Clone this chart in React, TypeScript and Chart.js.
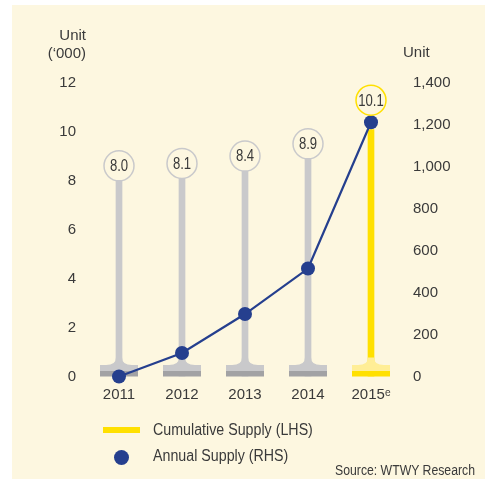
import React, { useEffect, useRef } from "react";
import { Chart, registerables } from "chart.js";

Chart.register(...registerables);

// ---- data ----
const years = ["2011", "2012", "2013", "2014", "2015ᵉ"];
const cumulativeSupply = [8.0, 8.1, 8.4, 8.9, 10.1]; // '000 units (LHS)
const cumulativeLabels = ["8.0", "8.1", "8.4", "8.9", "10.1"];
const annualSupply = [0, 112, 298, 515, 1213]; // units (RHS)
const leftAxisMax = 12;
const leftAxisStep = 2;
const rightAxisMax = 1400;
const rightAxisStep = 200;

// ---- styles ----
const CREAM = "#FDF7E0";
const TEXT = "#3A3A3A";
const BLUE = "#253F8E";
const GRAY = "#C9C9CB";
const GRAY_DARK = "#A2A2A4";
const YELLOW = "#FFE000";
const YELLOW_LIGHT = "#FFEE96";
const SANS = "'Liberation Sans', Arial, sans-serif";

const isHighlight = (i: number) => i === years.length - 1;

const bgPlugin = {
  id: "bgPlugin",
  beforeDraw(chart: any) {
    const ctx = chart.ctx;
    ctx.save();
    ctx.fillStyle = "#ffffff";
    ctx.fillRect(0, 0, chart.width, chart.height);
    ctx.fillStyle = CREAM;
    ctx.fillRect(12, 5, chart.width - 12, chart.height - 5);
    ctx.restore();
  },
};

const feetPlugin = {
  id: "feetPlugin",
  afterDatasetDraw(chart: any, args: any) {
    if (args.index !== 1) return;
    const ctx = chart.ctx;
    const meta = chart.getDatasetMeta(1);
    const base = chart.scales.y.getPixelForValue(0);
    ctx.save();
    meta.data.forEach((el: any, i: number) => {
      const x = el.x;
      const hi = isHighlight(i);
      const light = hi ? YELLOW_LIGHT : GRAY;
      const dark = hi ? YELLOW : GRAY_DARK;
      const footTop = base - 11.5;
      ctx.fillStyle = light;
      ctx.beginPath();
      ctx.moveTo(x - 3, base - 19);
      ctx.quadraticCurveTo(x - 3, footTop, x - 13, footTop);
      ctx.lineTo(x + 13, footTop);
      ctx.quadraticCurveTo(x + 3, footTop, x + 3, base - 19);
      ctx.closePath();
      ctx.fill();
      ctx.fillRect(x - 19, footTop, 38, 6);
      ctx.fillStyle = dark;
      ctx.fillRect(x - 19, base - 5.5, 38, 5.5);
    });
    ctx.restore();
  },
};

const bubblePlugin = {
  id: "bubblePlugin",
  afterDatasetsDraw(chart: any) {
    const ctx = chart.ctx;
    const barMeta = chart.getDatasetMeta(1);
    const lineMeta = chart.getDatasetMeta(0);
    ctx.save();
    barMeta.data.forEach((bar: any, i: number) => {
      const pt = lineMeta.data[i];
      const r = 15;
      const cy = Math.min(bar.y - r, pt.y - 7 - r);
      const cx = bar.x;
      ctx.beginPath();
      ctx.arc(cx, cy, r, 0, Math.PI * 2);
      ctx.fillStyle = CREAM;
      ctx.fill();
      ctx.lineWidth = 1.5;
      ctx.strokeStyle = isHighlight(i) ? YELLOW : GRAY;
      ctx.stroke();
      ctx.save();
      ctx.translate(cx, cy + 1);
      ctx.scale(0.82, 1);
      ctx.fillStyle = TEXT;
      ctx.font = `16px ${SANS}`;
      ctx.textAlign = "center";
      ctx.textBaseline = "middle";
      ctx.fillText(cumulativeLabels[i], 0, 0);
      ctx.restore();
    });
    ctx.restore();
  },
};

export default function App() {
  const canvasRef = useRef<HTMLCanvasElement | null>(null);

  useEffect(() => {
    const canvas = canvasRef.current;
    if (!canvas) return;
    const chart = new Chart(canvas, {
      type: "bar",
      data: {
        labels: years,
        datasets: [
          {
            type: "line",
            label: "Annual Supply (RHS)",
            data: annualSupply,
            yAxisID: "y1",
            borderColor: BLUE,
            backgroundColor: BLUE,
            borderWidth: 2.2,
            pointRadius: 7,
            pointBorderWidth: 0,
            pointBackgroundColor: BLUE,
            tension: 0,
            clip: false,
          } as any,
          {
            type: "bar",
            label: "Cumulative Supply (LHS)",
            data: cumulativeSupply,
            yAxisID: "y",
            backgroundColor: years.map((_, i) => (isHighlight(i) ? YELLOW : GRAY)),
            borderWidth: 0,
            barThickness: 6,
          } as any,
        ],
      },
      options: {
        responsive: false,
        animation: false,
        devicePixelRatio: 1,
        layout: { padding: { top: 83, left: 0, right: 0, bottom: 0 } },
        plugins: { legend: { display: false }, tooltip: { enabled: false } },
        scales: {
          x: {
            offset: true,
            grid: { display: false },
            border: { display: false },
            ticks: { color: TEXT, font: { family: SANS, size: 15 }, padding: 1 },
            afterFit: (s: any) => {
              s.height = 102.5;
            },
          },
          y: {
            position: "left",
            min: 0,
            max: leftAxisMax,
            grid: { display: false },
            border: { display: false },
            ticks: { stepSize: leftAxisStep, color: TEXT, font: { family: SANS, size: 15 }, padding: 3.5 },
            afterFit: (s: any) => {
              s.width = 87.5;
            },
          },
          y1: {
            position: "right",
            min: 0,
            max: rightAxisMax,
            grid: { display: false },
            border: { display: false },
            ticks: {
              stepSize: rightAxisStep,
              color: TEXT,
              font: { family: SANS, size: 15 },
              padding: 2.5,
              callback: (v: any) => Number(v).toLocaleString("en-US"),
            },
            afterFit: (s: any) => {
              s.width = 82.5;
            },
          },
        },
      } as any,
      plugins: [bgPlugin, feetPlugin, bubblePlugin],
    });
    return () => chart.destroy();
  }, []);

  const txt: React.CSSProperties = {
    position: "absolute",
    color: TEXT,
    fontFamily: SANS,
    fontSize: 15,
    lineHeight: "18px",
    whiteSpace: "nowrap",
  };
  const narrow = (origin: string): React.CSSProperties => ({
    transform: "scaleX(0.89)",
    transformOrigin: origin,
  });

  return (
    <div style={{ position: "absolute", left: 0, top: 0, width: 485, height: 479 }}>
      <canvas ref={canvasRef} width={485} height={479} style={{ display: "block", width: 485, height: 479 }} />
      <div style={{ ...txt, right: 485 - 86, top: 26, textAlign: "right" }}>
        Unit
        <br />
        (‘000)
      </div>
      <div style={{ ...txt, left: 403, top: 43 }}>Unit</div>
      <div style={{ position: "absolute", left: 103, top: 427, width: 37, height: 6, background: YELLOW }} />
      <div style={{ ...txt, ...narrow("left center"), fontSize: 16, left: 153, top: 421 }}>Cumulative Supply (LHS)</div>
      <div
        style={{ position: "absolute", left: 113.5, top: 449.5, width: 15, height: 15, borderRadius: "50%", background: BLUE }}
      />
      <div style={{ ...txt, ...narrow("left center"), fontSize: 16, left: 153, top: 447 }}>Annual Supply (RHS)</div>
      <div style={{ ...txt, transform: "scaleX(0.875)", transformOrigin: "right center", fontSize: 14, right: 10, top: 461 }}>
        Source: WTWY Research
      </div>
    </div>
  );
}
